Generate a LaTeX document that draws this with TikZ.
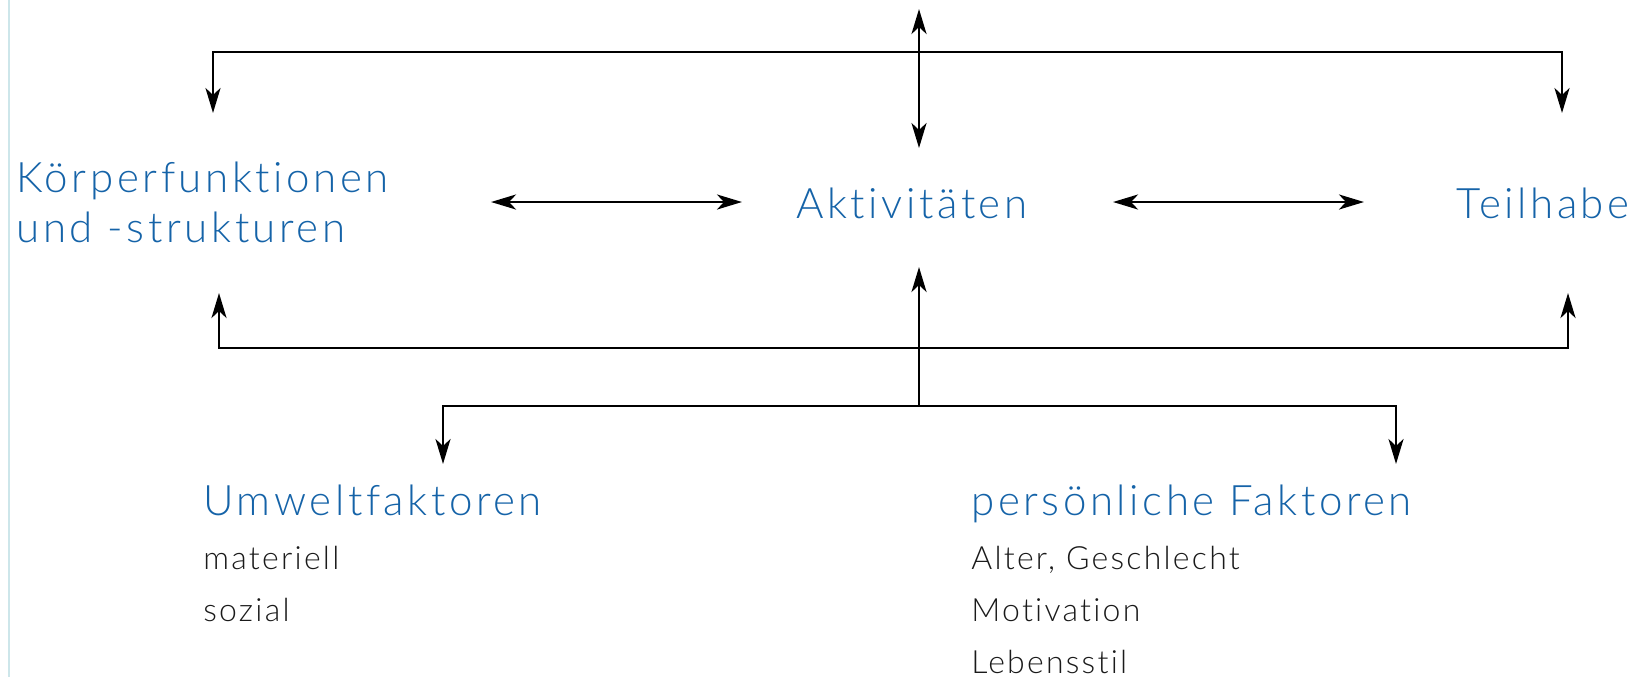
\documentclass[tikz,border=0pt]{standalone}
\usepackage{fontspec}
\setmainfont{Lato Light}[LetterSpace=7, Ligatures=NoCommon]
\newfontfamily\headfont{Lato Light}[LetterSpace=8.5, Ligatures=NoCommon]
\usetikzlibrary{arrows.meta}
\definecolor{icfblue}{RGB}{21,99,168}
\definecolor{edgecyan}{RGB}{205,230,234}
\definecolor{itemgray}{RGB}{26,26,26}

\begin{document}
\begin{tikzpicture}[x=0.5pt,y=-0.5pt,
  head/.style={anchor=base west, inner sep=0pt, text=icfblue,
    font=\headfont\fontsize{21}{25}\selectfont},
  item/.style={anchor=base west, inner sep=0pt, text=itemgray,
    font=\fontsize{16}{20}\selectfont},
  tip/.tip={Stealth[length=12.5pt,width=7.5pt,inset=3.5pt]},
  link/.style={line width=1.4pt, -tip},
  twoway/.style={line width=1.4pt, tip-tip}]

\useasboundingbox (0,0) rectangle (1641,677);
\draw[edgecyan, line width=1pt] (8.5,0) -- (8.5,677);

% components
\node[head] (koerper)  at (16,192)  {Körperfunktionen};
\node[head] (koerper2) at (16,242)  {und -strukturen};
\node[head] (akt)      at (796,218) {Aktivitäten};
\node[head] (teil)     at (1456,218) {Teilhabe};

% context factors
\node[head] (umwelt) at (203,515) {Umweltfaktoren};
\node[item] (mat)    at (203,569) {materiell};
\node[item] (soz)    at (203,621) {sozial};
\node[head] (pers)   at (971,515) {persönliche Faktoren};
\node[item] (alter)  at (971,569) {Alter, Geschlecht};
\node[item] (motiv)  at (971,621) {Motivation};
\node[item] (stil)   at (971,673) {Lebensstil};

% anchor points of the connectors
\coordinate (cTop)  at (919,9);
\coordinate (cBot)  at (919,148);
\coordinate (tMid)  at (919,52);
\coordinate (tlTip) at (213,113);
\coordinate (trTip) at (1562,113);
\coordinate (h1a) at (491,202);
\coordinate (h1b) at (742,202);
\coordinate (h2a) at (1113,202);
\coordinate (h2b) at (1364,202);
\coordinate (lMid)  at (919,348);
\coordinate (llTip) at (219,293);
\coordinate (lrTip) at (1568,293);
\coordinate (cuTip) at (919,267);
\coordinate (bMid)  at (919,406);
\coordinate (blTip) at (443,464);
\coordinate (brTip) at (1396,464);

% health condition feeding the three components
\draw[twoway] (cTop) -- (cBot);
\draw[link] (tMid) -| (tlTip);
\draw[link] (tMid) -| (trTip);

% interactions between the components
\draw[twoway] (h1a) -- (h1b);
\draw[twoway] (h2a) -- (h2b);

% context factors feeding back
\draw[link] (bMid) -- (cuTip);
\draw[link] (lMid) -| (llTip);
\draw[link] (lMid) -| (lrTip);
\draw[link] (bMid) -| (blTip);
\draw[link] (bMid) -| (brTip);
\end{tikzpicture}
\end{document}
